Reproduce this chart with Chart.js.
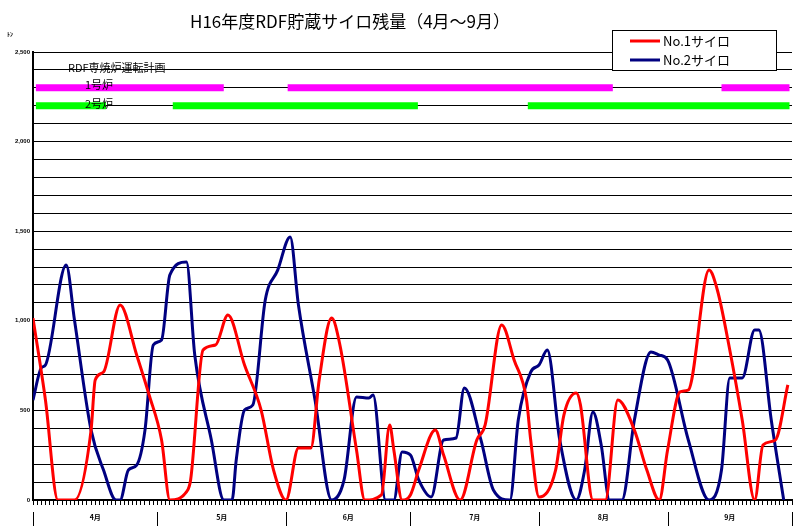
<!DOCTYPE html>
<html>
<head>
<meta charset="utf-8">
<script src="https://cdn.jsdelivr.net/npm/chart.js@4"></script>
<style>body{margin:0;background:#fff}</style>
</head>
<body>
<canvas id="c" width="797" height="529"></canvas>
<script>
// No.1サイロ (日数, トン)
var diasNo1 = [1,4,7,11,15,16,18,22,26,29,32,34,38,39,42,45,48,52,56,59,62,65,68,70,73,75,79,81,85,87,88,90,92,94,98,100,104,108,110,114,117,120,121,123,127,129,132,133,136,139,142,146,149,152,154,157,159,164,166,169,172,175,177,180,183];
var valoresNo1 = [1015,558,0,0,390,670,714,1088,809,586,335,0,45,112,837,865,1032,753,502,167,0,290,290,670,1015,865,279,0,28,418,279,0,28,167,390,251,0,335,418,977,781,558,335,17,167,474,597,530,0,0,558,390,167,0,279,603,614,1283,1172,837,446,0,307,335,642];
// No.2サイロ
var diasNo2 = [1,3,4,9,11,15,18,21,22,24,26,28,30,32,34,38,40,44,47,49,50,52,54,57,60,63,65,69,73,76,79,82,83,86,88,90,92,94,97,100,103,105,109,112,116,118,121,123,125,128,132,134,136,138,140,143,146,150,152,154,159,164,167,169,172,175,176,179,182];
var valoresNo2 = [558,737,753,1311,1004,390,167,0,0,167,195,390,865,893,1256,1328,809,335,0,0,223,502,530,1116,1283,1468,1088,558,0,112,575,569,586,0,0,268,251,112,17,335,346,625,335,56,0,446,714,753,837,335,0,167,491,307,0,0,446,826,809,781,335,0,167,681,681,949,949,446,0];
// 運転計画 [開始日, 終了日]
var plan1 = [[1.7,47],[62.4,140.8],[167,183.4]];
var plan2 = [[1.7,18.6],[34.7,93.8],[120.3,183.4]];
var meses = ['4月','5月','6月','7月','8月','9月'];
var inicioMes = [1,31,62,92,123,154,184];

function pts(d, v){ return d.map(function(x,i){ return {x:x, y:v[i]}; }); }

var datasets = [
  {label:'No.1サイロ', data:pts(diasNo1,valoresNo1), borderColor:'#ff0000', borderWidth:3, cubicInterpolationMode:'monotone', pointRadius:0},
  {label:'No.2サイロ', data:pts(diasNo2,valoresNo2), borderColor:'#000080', borderWidth:3, cubicInterpolationMode:'monotone', pointRadius:0}
];
plan1.forEach(function(s){ datasets.push({data:[{x:s[0],y:2300},{x:s[1],y:2300}], borderColor:'#ff00ff', borderWidth:7, pointRadius:0, borderCapStyle:'butt'}); });
plan2.forEach(function(s){ datasets.push({data:[{x:s[0],y:2200},{x:s[1],y:2200}], borderColor:'#00ff00', borderWidth:7, pointRadius:0, borderCapStyle:'butt'}); });

var textos = {
  id:'textos',
  afterDraw:function(chart){
    var c = chart.ctx, xs = chart.scales.x, a = chart.chartArea;
    c.save();
    c.fillStyle = '#000';
    c.font = '17px "Noto Sans CJK JP"';
    c.textAlign = 'center'; c.textBaseline = 'middle';
    c.fillText('H16年度RDF貯蔵サイロ残量（4月～9月）', 350, 22);
    c.font = 'bold 6px "Noto Sans CJK JP"';
    c.fillText('ﾄﾝ', 10, 34);
    // meses
    c.strokeStyle = '#000'; c.lineWidth = 1;
    inicioMes.forEach(function(d){
      var x = Math.round(xs.getPixelForValue(d)) + 0.5;
      c.beginPath(); c.moveTo(x, a.bottom+12); c.lineTo(x, a.bottom+26); c.stroke();
    });
    c.font = 'bold 7px "Noto Sans CJK JP"';
    meses.forEach(function(m,i){
      c.fillText(m, xs.getPixelForValue((inicioMes[i]+inicioMes[i+1])/2), a.bottom+17);
    });
    // plan
    c.textAlign = 'left';
    c.font = '11px "Noto Sans CJK JP"';
    c.fillText('RDF専焼炉運転計画', 68, 68);
    c.fillText('1号炉', 85, 85);
    c.fillText('2号炉', 85, 104);
    // leyenda
    c.fillStyle = '#fff';
    c.fillRect(612, 30, 164, 40);
    c.strokeRect(612.5, 30.5, 164, 40);
    c.fillStyle = '#000';
    c.font = '13px "Noto Sans CJK JP"';
    [['#ff0000','No.1サイロ',41],['#000080','No.2サイロ',60]].forEach(function(l){
      c.strokeStyle = l[0]; c.lineWidth = 3;
      c.beginPath(); c.moveTo(630, l[2]); c.lineTo(660, l[2]); c.stroke();
      c.fillText(l[1], 663, l[2]);
    });
    c.restore();
  }
};

new Chart(document.getElementById('c').getContext('2d'), {
  type:'line',
  data:{datasets:datasets},
  plugins:[textos],
  options:{
    responsive:false, animation:false,
    layout:{padding:{top:52, right:5, left:0, bottom:0}},
    plugins:{legend:{display:false}, tooltip:{enabled:false}},
    scales:{
      x:{
        type:'linear', min:1, max:184,
        afterFit:function(s){ s.height = 29; },
        ticks:{stepSize:1, autoSkip:false, maxRotation:0, callback:function(){ return ''; }},
        grid:{drawOnChartArea:false, color:'#000', tickLength:5},
        border:{color:'#000', width:2}
      },
      y:{
        min:0, max:2500,
        afterFit:function(s){ s.width = 33; },
        ticks:{stepSize:100, autoSkip:false, color:'#000', font:{size:6, weight:'bold'},
          callback:function(v){ return v % 500 === 0 ? v.toLocaleString('en-US') : ''; }},
        grid:{color:'#000', lineWidth:1, drawTicks:false},
        border:{color:'#000', width:2}
      }
    }
  }
});
</script>
</body>
</html>
